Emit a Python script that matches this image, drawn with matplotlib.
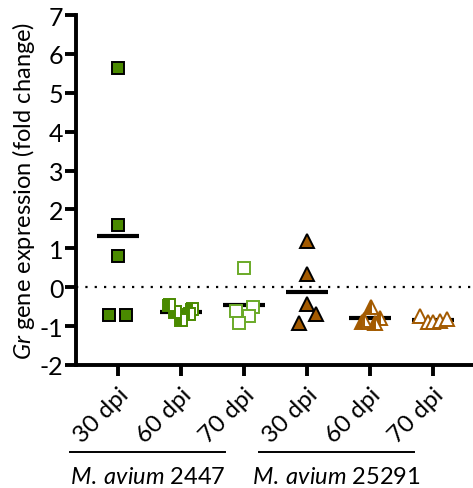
import matplotlib
matplotlib.use("Agg")
import matplotlib.pyplot as plt
from matplotlib import transforms

# Fold change per group; x offsets are the scatter spread
groups = ["30 dpi", "60 dpi", "70 dpi", "30 dpi", "60 dpi", "70 dpi"]
values = [
    [5.65, 1.6, 0.8, -0.72, -0.72],
    [-0.46, -0.64, -0.85, -0.57, -0.69],
    [0.49, -0.61, -0.50, -0.74, -0.93],
    [1.18, 0.33, -0.44, -0.69, -0.93],
    [-0.52, -0.90, -0.85, -0.92, -0.80],
    [-0.74, -0.90, -0.90, -0.87, -0.82],
]
spread = [
    [0.0, 0.0, 0.0, -0.14, 0.13],
    [-0.19, -0.09, 0.0, 0.18, 0.12],
    [0.0, -0.13, 0.14, 0.08, -0.08],
    [0.0, 0.0, 0.0, 0.14, -0.13],
    [0.01, -0.13, -0.10, 0.08, 0.16],
    [-0.21, -0.09, 0.0, 0.11, 0.21],
]
strains = ["M.\\:avium", "M.\\:avium"]
strain_ids = ["2447", "25291"]

GREEN = "#4a8a00"
LIGHT_GREEN = "#6aaa28"
BROWN = "#a35a00"

styles = [
    dict(marker="s", mfc=GREEN, mec="black", fillstyle="full", markersize=8.5),
    dict(marker="s", mfc=GREEN, mec=GREEN, fillstyle="left",
         markerfacecoloralt="white", markersize=8.5),
    dict(marker="s", mfc="white", mec=LIGHT_GREEN, fillstyle="full", markersize=8.5),
    dict(marker="^", mfc=BROWN, mec="black", fillstyle="full", markersize=10),
    dict(marker="^", mfc=BROWN, mec=BROWN, fillstyle="left",
         markerfacecoloralt="white", markersize=10),
    dict(marker="^", mfc="white", mec=BROWN, fillstyle="full", markersize=10),
]

plt.rcParams["font.family"] = ["Lato", "DejaVu Sans"]
plt.rcParams["axes.unicode_minus"] = False
plt.rcParams["mathtext.fontset"] = "custom"
plt.rcParams["mathtext.it"] = "Lato:italic"
plt.rcParams["mathtext.rm"] = "Lato"

fig = plt.figure(figsize=(4.73, 4.89), dpi=100)
ax = fig.add_axes([76 / 473, 1 - 366 / 489, 1 - 76 / 473, 350 / 489])

for i, (vals, offs, st) in enumerate(zip(values, spread, styles)):
    pos = i + 1
    xs = [pos + o for o in offs]
    ax.plot(xs, vals, linestyle="none", markeredgewidth=1.4, zorder=3, **st)
    mean = sum(vals) / len(vals)
    ax.plot([pos - 0.33, pos + 0.33], [mean, mean], color="black", lw=3,
            solid_capstyle="butt", zorder=2)

ax.axhline(0, color="black", lw=1.6, linestyle=(0, (1, 3.2)), zorder=1)

ax.set_xlim(0.333, 6.63)
ax.set_ylim(-2, 7)
ax.set_yticks(range(-2, 8))
ax.set_xticks(range(1, 7))
ax.set_xticklabels(groups, rotation=45, ha="right", rotation_mode="anchor",
                   fontsize=17.5)
ax.tick_params(axis="y", labelsize=18, length=8, width=2.8, pad=1)
ax.tick_params(axis="x", length=8, width=2.8, pad=5)
for side in ("top", "right"):
    ax.spines[side].set_visible(False)
for side in ("left", "bottom"):
    ax.spines[side].set_linewidth(2.8)

ax.set_ylabel(r"$\it{Gr}$ gene expression (fold change)", fontsize=17, labelpad=2)

# group brackets under the x labels
trans = transforms.blended_transform_factory(ax.transData, ax.transAxes)
for start, strain, sid in zip([0.24, 3.24], strains, strain_ids):
    ax.plot([start, start + 2.46], [-0.249, -0.249], color="black", lw=1.4,
            transform=trans, clip_on=False)
    ax.text(start + 1.23, -0.318, r"$\it{" + strain + "}$ " + sid, transform=trans,
            ha="center", va="center", fontsize=17)

fig.savefig("out.png", dpi=100)
